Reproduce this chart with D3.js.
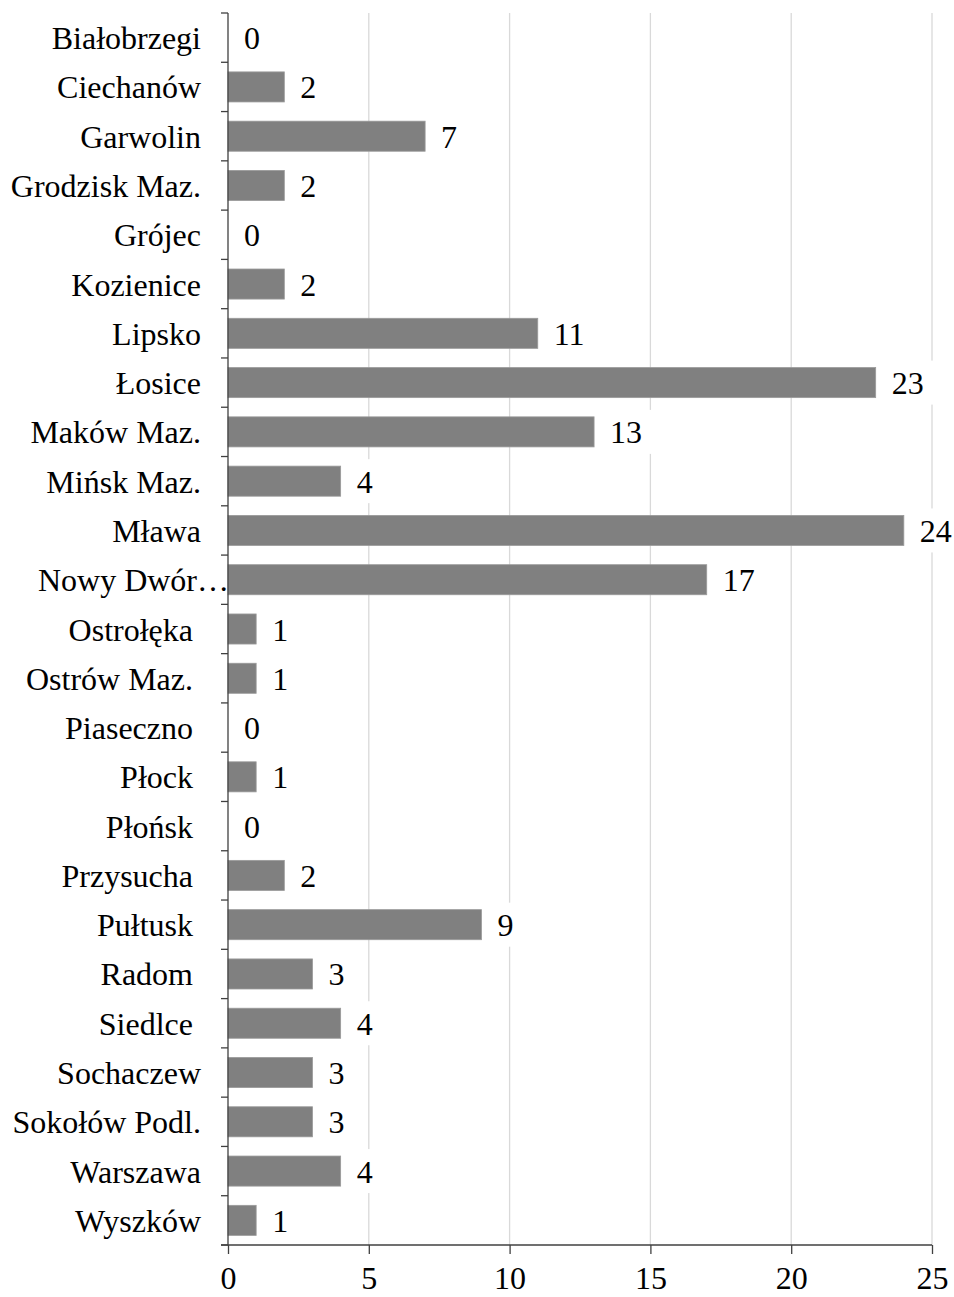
<!DOCTYPE html>
<html>
<head>
<meta charset="utf-8">
<script src="https://cdn.jsdelivr.net/npm/d3@7"></script>
<style>
  html, body { margin: 0; padding: 0; background: #fff; }
  svg { display: block; }
  text { font-family: "Liberation Serif", "Times New Roman", serif; fill: #000; }
</style>
</head>
<body>
<svg id="chart" width="954" height="1297"></svg>
<script>
const categories = [
  "Białobrzegi", "Ciechanów", "Garwolin", "Grodzisk Maz.", "Grójec", "Kozienice",
  "Lipsko", "Łosice", "Maków Maz.", "Mińsk Maz.", "Mława", "Nowy Dwór…",
  "Ostrołęka ", "Ostrów Maz. ", "Piaseczno ", "Płock ", "Płońsk ", "Przysucha ",
  "Pułtusk ", "Radom ", "Siedlce ", "Sochaczew", "Sokołów Podl.", "Warszawa", "Wyszków"
];
const values = [0, 2, 7, 2, 0, 2, 11, 23, 13, 4, 24, 17, 1, 1, 0, 1, 0, 2, 9, 3, 4, 3, 3, 4, 1];
const xTicks = [0, 5, 10, 15, 20, 25];

(function () {
const svg = d3.select("#chart");
const mLeft = 228, mRight = 932, mTop = 13, mBottom = 1245;
const fontSize = 32;

const x = d3.scaleLinear().domain([0, 25]).range([mLeft, mRight]);
const y = d3.scaleBand().domain(categories).range([mTop, mBottom])
  .paddingInner(0.39).paddingOuter(0.195);

// gridlines
svg.append("g").selectAll("line").data(xTicks.filter(t => t > 0)).join("line")
  .attr("x1", d => x(d)).attr("x2", d => x(d))
  .attr("y1", mTop).attr("y2", mBottom)
  .attr("stroke", "#d9d9d9").attr("stroke-width", 1.3);

// bars
svg.append("g").selectAll("rect").data(categories).join("rect")
  .attr("x", x(0))
  .attr("y", (d) => y(d))
  .attr("width", (d, i) => x(values[i]) - x(0))
  .attr("height", y.bandwidth())
  .attr("fill", "#808080")
  .attr("stroke", "#9a9a9a").attr("stroke-width", 0.8);

// value labels
const lg = svg.append("g");
categories.forEach((c, i) => {
  const cy = y(c) + y.bandwidth() / 2;
  const t = lg.append("text")
    .attr("x", x(values[i]) + 16)
    .attr("y", cy)
    .attr("dy", "0.36em")
    .attr("font-size", fontSize)
    .text(values[i]);
  const bb = t.node().getBBox();
  lg.insert("rect", "text")
    .attr("x", bb.x - 8).attr("y", cy - 22)
    .attr("width", bb.width + 18).attr("height", 44)
    .attr("fill", "#fff");
});

// y axis
const yAxisG = svg.append("g");
yAxisG.append("line").attr("x1", mLeft).attr("x2", mLeft).attr("y1", mTop).attr("y2", mBottom)
  .attr("stroke", "#404040").attr("stroke-width", 1.3);
const boundaries = categories.map(c => y(c) - y.step() * y.paddingInner() / 2).concat([mBottom]);
yAxisG.selectAll("line.tick").data(boundaries).join("line").attr("class", "tick")
  .attr("x1", mLeft - 7).attr("x2", mLeft).attr("y1", d => d).attr("y2", d => d)
  .attr("stroke", "#404040").attr("stroke-width", 1.3);
yAxisG.selectAll("text").data(categories).join("text")
  .attr("x", d => d.endsWith("…") ? mLeft + 1 : mLeft - 27)
  .attr("y", d => y(d) + y.bandwidth() / 2)
  .attr("dy", "0.36em")
  .attr("text-anchor", "end")
  .attr("font-size", fontSize)
  .style("white-space", "pre")
  .text(d => d);

// x axis
const xAxis = d3.axisBottom(x).tickValues(xTicks).tickSize(9).tickPadding(12).tickFormat(d3.format("d"));
const xg = svg.append("g").attr("transform", `translate(0,${mBottom})`).call(xAxis);
xg.select(".domain").attr("stroke", "#404040").attr("stroke-width", 1.3)
  .attr("d", `M${mLeft - 7},0H${mRight}`);
xg.selectAll(".tick line").attr("stroke", "#404040").attr("stroke-width", 1.3);
xg.selectAll(".tick text").attr("font-size", fontSize).attr("font-family", "Liberation Serif").attr("fill", "#000");
})();
</script>
</body>
</html>
